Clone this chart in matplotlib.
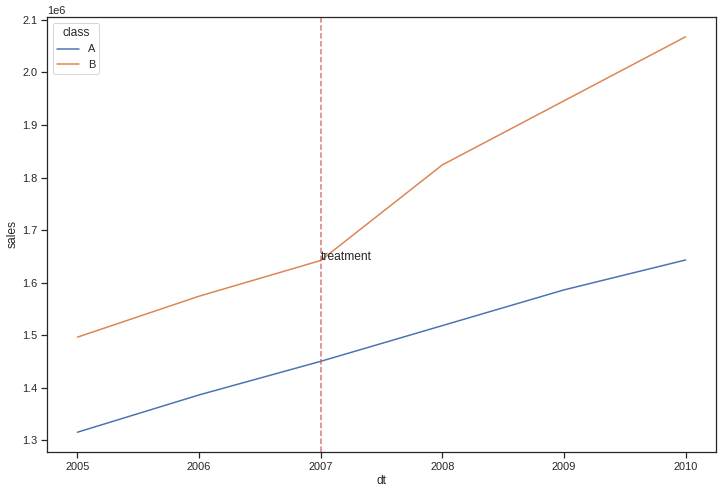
import matplotlib
matplotlib.use("Agg")
import matplotlib.pyplot as plt
import seaborn as sns
import pandas as pd

years = [2005, 2006, 2007, 2008, 2009, 2010]
sales_A = [1.315e6, 1.386e6, 1.450e6, 1.518e6, 1.586e6, 1.643e6]
sales_B = [1.496e6, 1.574e6, 1.642e6, 1.824e6, 1.946e6, 2.068e6]
classes = ["A", "B"]

df = pd.DataFrame({
    "dt": years * 2,
    "sales": sales_A + sales_B,
    "class": [classes[0]] * len(years) + [classes[1]] * len(years),
})

sns.set_theme(style="ticks")
plt.rcParams["font.family"] = ["Liberation Sans", "DejaVu Sans"]
fig = plt.figure(figsize=(723 / 72, 493 / 72), dpi=72)
ax = fig.add_axes([47 / 723, 41 / 493, 669 / 723, 435 / 493])
sns.lineplot(data=df, x="dt", y="sales", hue="class", ax=ax)
ax.axvline(2007, color="#C44E52", linestyle="--", alpha=0.75)
ax.text(2007, sales_B[2], "treatment")
ax.legend(title="class", loc="upper left")
fig.savefig("out.png", dpi=72)
